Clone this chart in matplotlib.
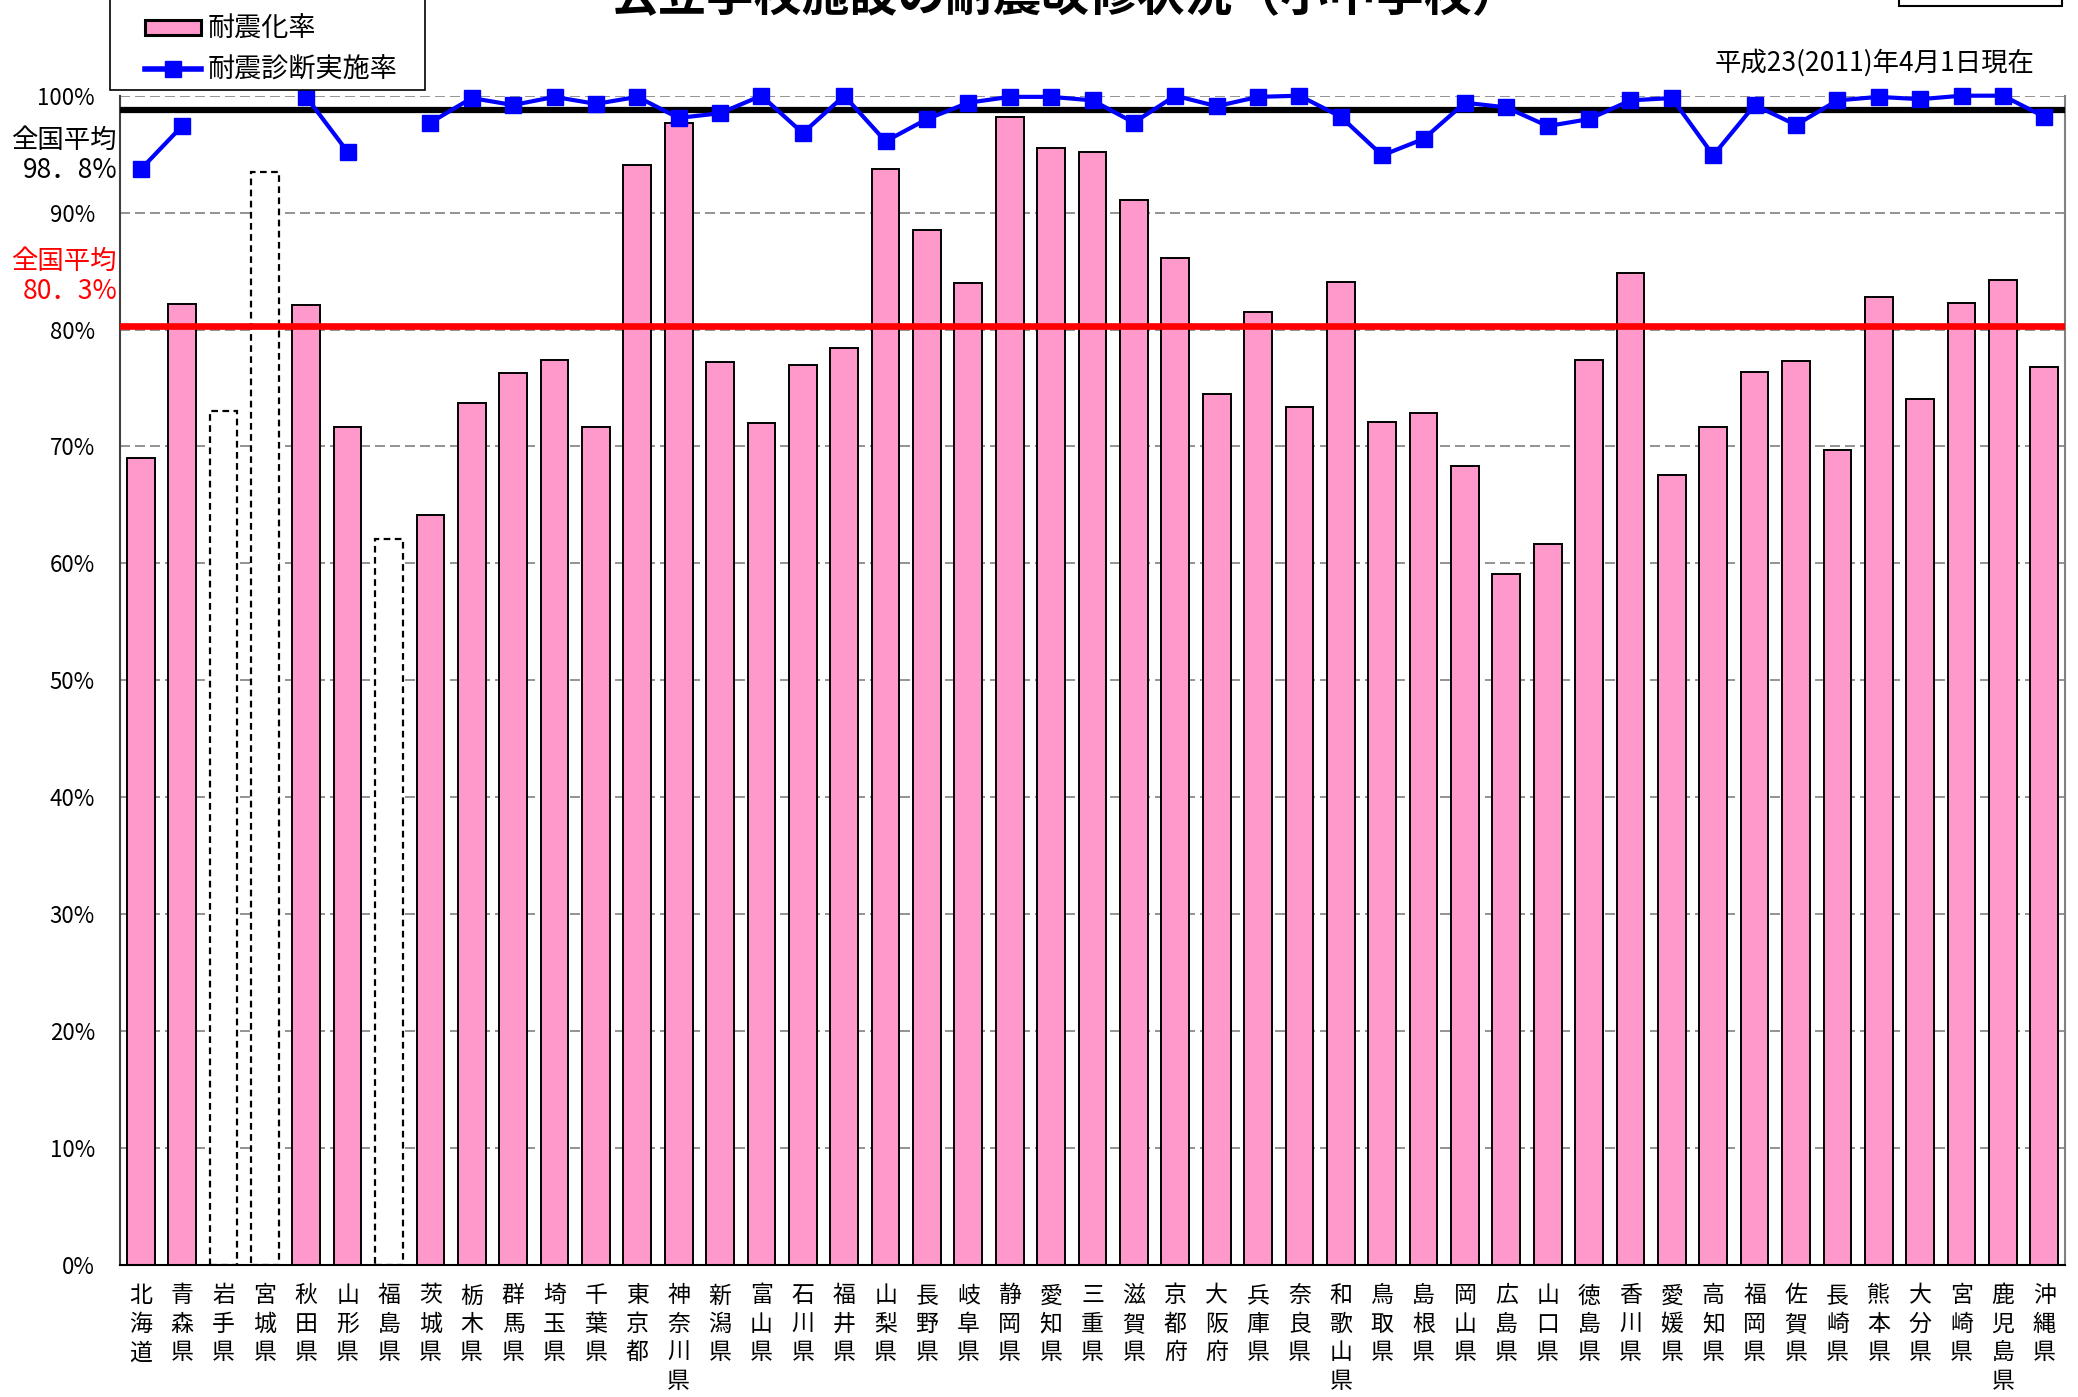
import matplotlib
matplotlib.use('Agg')
import matplotlib.pyplot as plt
from matplotlib.patches import Patch, Rectangle
from matplotlib.lines import Line2D
import numpy as np

plt.rcParams['font.family'] = ['Noto Sans CJK JP', 'DejaVu Sans']

prefectures = ['北海道', '青森県', '岩手県', '宮城県', '秋田県', '山形県', '福島県',
               '茨城県', '栃木県', '群馬県', '埼玉県', '千葉県', '東京都', '神奈川県',
               '新潟県', '富山県', '石川県', '福井県', '山梨県', '長野県', '岐阜県',
               '静岡県', '愛知県', '三重県', '滋賀県', '京都府', '大阪府', '兵庫県',
               '奈良県', '和歌山県', '鳥取県', '島根県', '岡山県', '広島県', '山口県',
               '徳島県', '香川県', '愛媛県', '高知県', '福岡県', '佐賀県', '長崎県',
               '熊本県', '大分県', '宮崎県', '鹿児島県', '沖縄県']

seismic_rate = [69.0, 82.2, 73.0, 93.5, 82.1, 71.7, 62.1,
                64.1, 73.7, 76.3, 77.4, 71.7, 94.1, 97.7,
                77.2, 72.0, 77.0, 78.4, 93.7, 88.5, 84.0,
                98.2, 95.5, 95.2, 91.1, 86.1, 74.5, 81.5,
                73.4, 84.1, 72.1, 72.9, 68.3, 59.1, 61.7,
                77.4, 84.8, 67.6, 71.7, 76.4, 77.3, 69.7,
                82.8, 74.1, 82.3, 84.2, 76.8]

nan = float('nan')
diagnosis_rate = [93.7, 97.4, nan, nan, 99.9, 95.2, nan,
                  97.7, 99.8, 99.2, 99.9, 99.3, 99.9, 98.1,
                  98.5, 100.0, 96.8, 100.0, 96.1, 98.0, 99.4,
                  99.9, 99.9, 99.6, 97.7, 100.0, 99.1, 99.9,
                  100.0, 98.2, 94.9, 96.3, 99.4, 99.0, 97.4,
                  98.0, 99.6, 99.8, 94.9, 99.2, 97.5, 99.6,
                  99.9, 99.7, 100.0, 100.0, 98.2]

dotted_prefectures = ['岩手県', '宮城県', '福島県']

avg_seismic = 80.3
avg_diagnosis = 98.8
yticks = [0, 10, 20, 30, 40, 50, 60, 70, 80, 90, 100]
ytick_labels = ['0%', '10%', '20%', '30%', '40%', '50%', '60%', '70%', '80%', '90%', '100%']

W, H = 2078, 1397
fig = plt.figure(figsize=(W / 100, H / 100), dpi=100)
ax = fig.add_axes([120 / W, (H - 1265) / H, (2065 - 120) / W, (1265 - 95.7) / H])

x = np.arange(len(prefectures))
bars = ax.bar(x, seismic_rate, width=0.67, color='#FF99CC', edgecolor='black',
              linewidth=1.4, zorder=2)
for rect, name in zip(bars.patches, prefectures):
    if name in dotted_prefectures:
        rect.set_facecolor('white')
        rect.set_linestyle((0, (3, 2)))
        rect.set_linewidth(1.6)

ax.axhline(avg_seismic, color='#FF0000', linewidth=4.8, zorder=3)
ax.axhline(avg_diagnosis, color='black', linewidth=4.5, zorder=3)

ax.plot(x, diagnosis_rate, color='#0000FF', linewidth=3, marker='s', markersize=11.5,
        clip_on=False, zorder=5)

ax.set_xlim(-0.5, len(prefectures) - 0.5)
ax.set_ylim(0, 100)
ax.set_yticks(yticks)
ax.set_yticklabels(ytick_labels)
ax.yaxis.grid(True, color='#808080', linestyle=(0, (6, 3)), linewidth=1.2)
ax.set_axisbelow(True)

ax.set_xticks(x)
ax.set_xticklabels(['\n'.join(list(p)) for p in prefectures], linespacing=1.3, va='top')
ax.tick_params(axis='x', length=0, pad=14, labelsize=16.5)
ax.tick_params(axis='y', length=0, pad=18, labelsize=16)

ax.spines['top'].set_visible(False)
ax.spines['left'].set_color('#404040')
ax.spines['left'].set_linewidth(1.5)
ax.spines['right'].set_color('#808080')
ax.spines['right'].set_linewidth(1.5)
ax.spines['bottom'].set_color('black')
ax.spines['bottom'].set_linewidth(1.5)

# legend: frame drawn separately, entries placed inside
fig.patches.append(Rectangle((110 / W, 1 - 90 / H), (425 - 110) / W, 120 / H,
                             transform=fig.transFigure, facecolor='white',
                             edgecolor='black', linewidth=1.2, zorder=4))
handles = [Patch(facecolor='#FF99CC', edgecolor='black', linewidth=2.2, label='耐震化率'),
           Line2D([0], [0], color='#0000FF', linewidth=4, marker='s', markersize=11,
                  label='耐震診断実施率')]
leg = fig.legend(handles=handles, loc='upper left', bbox_to_anchor=(145 / W, 1 - 16 / H),
                 fontsize=19.5, frameon=False, handlelength=2.05, handleheight=0.52,
                 labelspacing=0.52, borderpad=0, handletextpad=0.25,
                 borderaxespad=0)
leg.set_zorder(5)

# side annotations
fig.text(117 / W, 1 - 127 / H, '全国平均\n98．8%', ha='right', va='top', fontsize=19,
         color='black', linespacing=1.15)
fig.text(117 / W, 1 - 248 / H, '全国平均\n80．3%', ha='right', va='top', fontsize=19,
         color='#FF0000', linespacing=1.15)

fig.text(2034 / W, 1 - 63 / H, '平成23(2011)年4月1日現在', ha='right', va='center',
         fontsize=19)

# title (cut off at top in reference)
fig.text(1066 / W, 1 - 11 / H, '公立学校施設の耐震改修状況（小中学校）', ha='center',
         va='baseline', fontsize=34.5, fontweight='bold')

# partially visible box at top right
fig.patches.append(Rectangle((1899 / W, 1 - 6 / H), (2062 - 1899) / W, 40 / H,
                             transform=fig.transFigure, facecolor='white',
                             edgecolor='black', linewidth=1.5))

fig.savefig('out.png', dpi=100)
